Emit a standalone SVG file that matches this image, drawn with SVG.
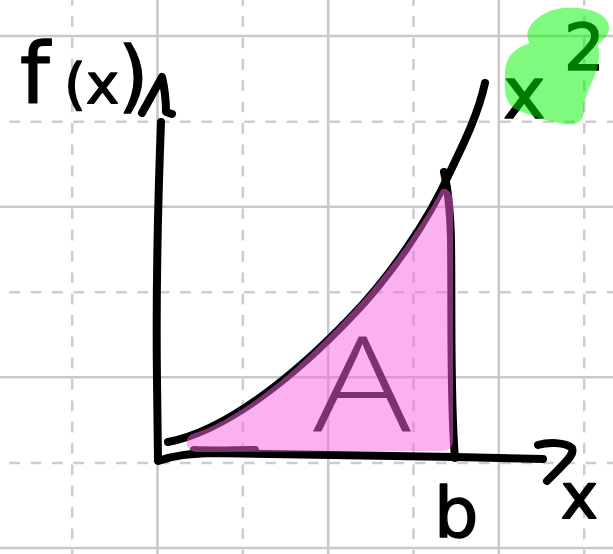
<svg xmlns="http://www.w3.org/2000/svg" width="613" height="554" viewBox="0 0 613 554">
<style>
.gs{stroke:#c9c9c9;stroke-width:2.6;fill:none}
.gdv{stroke:#cdcdcd;stroke-width:2.6;fill:none;stroke-dasharray:10.67 10.67;stroke-dashoffset:5}
.gdh{stroke:#cdcdcd;stroke-width:2.6;fill:none;stroke-dasharray:10.67 10.67;stroke-dashoffset:12}
.ink{stroke:#000;stroke-width:8;fill:none;stroke-linecap:round;stroke-linejoin:round}
.lbl{font-family:"DejaVu Sans","Liberation Sans",sans-serif;fill:#000;stroke:#000;stroke-linejoin:round}
</style>
<rect width="613" height="554" fill="#fff"/>
<g id="grid">
<path class="gs" d="M157.5,0V554M328.2,0V554M498.8,0V554M0,36H613M0,206.7H613M0,377.3H613M0,548H613"/>
<path class="gdv" d="M72.2,0V554M242.8,0V554M413.5,0V554M584.2,0V554"/>
<path class="gdh" d="M0,121.7H613M0,292.3H613M0,463H613"/>
</g>
<g id="connectors">
<path id="y-axis" class="ink" d="M161,122 C158,200 156,300 157,380 L158,460"/>
<path id="y-arrow" class="ink" d="M142,113 L162,77 C165,90 166,103 166,112 L172,114"/>
<path id="x-axis" class="ink" d="M158,461 C175,455 190,454 210,453 L455,457 L543,459"/>
<path id="x-arrow" class="ink" d="M538,445 C548,442 565,442 572,448 C575,455 565,462 558,470 L547,481"/>
<path id="curve" class="ink" d="M168,442 C230,430 300,370 350,318 C388,279 428,222 450,172 C463,145 478,115 485,83"/>
<path id="b-line" class="ink" d="M444,172 C447,185 450,200 451,240 C452,320 450,400 455,458"/>
<path id="edge" class="ink" stroke-width="4" d="M194,450 C215,451 235,450 255,450"/>
</g>
<g id="area">
<text id="label-A" x="313" y="432" font-family="Open Sans, Inter, Liberation Sans, sans-serif" font-weight="300" font-size="132" fill="#000" textLength="98" lengthAdjust="spacingAndGlyphs">A</text>
<path id="highlight-A" fill="rgb(247,97,223)" opacity="0.5" d="M196,452 C186,452 183,438 192,434 C240,420 300,368 348,316 C386,277 425,221 441,190 C446,186 452,192 453,200 L453,440 C453,448 448,451 440,451 Z"/>
</g>
<g id="label-fx">
<text class="lbl" font-size="84" stroke-width="1.5" y="103"><tspan x="20">f</tspan><tspan x="64" font-size="56">(</tspan><tspan x="86" font-size="56">x</tspan><tspan x="118" font-size="78">)</tspan></text>
</g>
<g id="label-x2">
<text class="lbl" stroke-width="1.5"><tspan x="503" y="118" font-size="72">x</tspan><tspan x="564" y="70" font-size="64">2</tspan></text>
<path id="highlight-x2" fill="rgb(0,245,0)" opacity="0.5" d="M530,43 C520,30 540,10 563,8 C585,6 609,12 609,28 C609,37 601,40 598,45 C601,55 598,68 593,80 C588,90 584,100 584,110 C584,122 575,126 565,124 C550,122 530,116 513,108 C505,100 504,90 505,75 C505,60 510,50 530,43 Z"/>
</g>
<g id="label-b">
<text class="lbl" x="434" y="537" font-size="70" stroke-width="1.5">b</text>
</g>
<g id="label-x">
<text class="lbl" x="561" y="518" font-size="62" stroke-width="2">x</text>
</g>
</svg>
